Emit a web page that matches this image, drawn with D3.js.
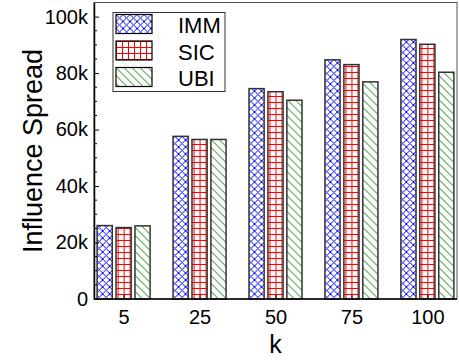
<!DOCTYPE html>
<html>
<head>
<meta charset="utf-8">
<script src="https://cdn.jsdelivr.net/npm/d3@7"></script>
<style>
  body { margin: 0; background: #fff; }
  svg { display: block; font-family: "Liberation Sans", Arial, sans-serif; }
</style>
</head>
<body>
<svg></svg>
<script>
// data
const kLabels = ["5", "25", "50", "75", "100"];
const methods = ["IMM", "SIC", "UBI"];
const immSpread = [26000, 57600, 74500, 84700, 91900];
const sicSpread = [25300, 56500, 73400, 83000, 90200];
const ubiSpread = [25900, 56500, 70400, 76900, 80300];
const yTicks = [0, 20000, 40000, 60000, 80000, 100000];
const yTickLabels = ["0", "20k", "40k", "60k", "80k", "100k"];

const W = 459, H = 360;
const plot = { left: 94, right: 457, top: 2.5, bottom: 299 };

const svg = d3.select("svg")
    .attr("width", W)
    .attr("height", H);

// hatch patterns
const defs = svg.append("defs");
const pImm = defs.append("pattern")
    .attr("id", "p-imm")
    .attr("patternUnits", "userSpaceOnUse")
    .attr("width", 7).attr("height", 7);
pImm.append("path")
    .attr("d", "M0,0L7,7M7,0L0,7M-1,6L1,8M6,-1L8,1M-1,1L1,-1M6,8L8,6")
    .attr("stroke", "#0000ff").attr("stroke-width", 1).attr("fill", "none");

const pSic = defs.append("pattern")
    .attr("id", "p-sic")
    .attr("patternUnits", "userSpaceOnUse")
    .attr("width", 6).attr("height", 6);
pSic.append("path")
    .attr("d", "M0,0.5H6M0.5,0V6")
    .attr("stroke", "#ff0000").attr("stroke-width", 1).attr("fill", "none");

const pUbi = defs.append("pattern")
    .attr("id", "p-ubi")
    .attr("patternUnits", "userSpaceOnUse")
    .attr("width", 8).attr("height", 8);
pUbi.append("path")
    .attr("d", "M0,0L8,8M-1,7L1,9M7,-1L9,1")
    .attr("stroke", "#108a10").attr("stroke-width", 1).attr("fill", "none");

const fills = { IMM: "url(#p-imm)", SIC: "url(#p-sic)", UBI: "url(#p-ubi)" };

// scales
const x = d3.scalePoint()
    .domain(kLabels)
    .range([plot.left, plot.right])
    .padding(0.39);

const xSub = d3.scaleBand()
    .domain(methods)
    .range([-26.5, 26.5])
    .paddingInner(0.2);

const y = d3.scaleLinear()
    .domain([0, 105000])
    .range([plot.bottom, plot.top]);

const rows = kLabels.map((k, i) => ({
    k,
    values: [
        { method: "IMM", v: immSpread[i] },
        { method: "SIC", v: sicSpread[i] },
        { method: "UBI", v: ubiSpread[i] }
    ]
}));

// bars
const groups = svg.append("g").selectAll("g")
    .data(rows)
    .join("g")
    .attr("transform", d => `translate(${x(d.k)},0)`);

groups.selectAll("rect.bg")
    .data(d => d.values)
    .join("rect")
    .attr("class", "bg")
    .attr("x", d => xSub(d.method))
    .attr("width", xSub.bandwidth())
    .attr("y", d => y(d.v))
    .attr("height", d => y(0) - y(d.v))
    .attr("fill", "#fff");

groups.selectAll("rect.bar")
    .data(d => d.values)
    .join("rect")
    .attr("class", "bar")
    .attr("x", d => xSub(d.method))
    .attr("width", xSub.bandwidth())
    .attr("y", d => y(d.v))
    .attr("height", d => y(0) - y(d.v))
    .attr("fill", d => fills[d.method])
    .attr("stroke", "#333")
    .attr("stroke-width", 1.5);

// frame
svg.append("rect")
    .attr("x", plot.left).attr("y", plot.top)
    .attr("width", plot.right - plot.left)
    .attr("height", plot.bottom - plot.top)
    .attr("fill", "none")
    .attr("stroke", "#555")
    .attr("stroke-width", 1);

// y axis (ticks inward)
const yAxis = d3.axisRight(y)
    .tickValues(yTicks)
    .tickFormat((d, i) => yTickLabels[i])
    .tickSize(5)
    .tickSizeOuter(0);
const yG = svg.append("g")
    .attr("transform", `translate(${plot.left},0)`)
    .call(yAxis);
yG.select(".domain").attr("stroke", "#000").attr("stroke-width", 1.5);
yG.selectAll(".tick line").attr("stroke", "#000");
yG.selectAll(".tick text")
    .attr("x", -6)
    .attr("text-anchor", "end")
    .attr("font-size", 20)
    .attr("fill", "#000")
    .attr("font-family", "Liberation Sans, Arial, sans-serif");

// minor y ticks
const minor = d3.range(5000, 105000, 5000).filter(v => v % 20000 !== 0);
svg.append("g").selectAll("line")
    .data(minor)
    .join("line")
    .attr("x1", plot.left).attr("x2", plot.left + 3)
    .attr("y1", d => y(d)).attr("y2", d => y(d))
    .attr("stroke", "#000");

// x axis (ticks inward)
const xAxis = d3.axisTop(x).tickSize(4).tickSizeOuter(0);
const xG = svg.append("g")
    .attr("transform", `translate(0,${plot.bottom})`)
    .call(xAxis);
xG.select(".domain").attr("d", `M${plot.left},0H${plot.right}`)
    .attr("stroke", "#000").attr("stroke-width", 1.5);
xG.selectAll(".tick line").attr("stroke", "#000");
xG.selectAll(".tick text")
    .attr("y", 25)
    .attr("dy", 0)
    .attr("font-size", 20)
    .attr("fill", "#000")
    .attr("font-family", "Liberation Sans, Arial, sans-serif");

// axis titles
svg.append("text")
    .attr("x", (plot.left + plot.right) / 2)
    .attr("y", 353)
    .attr("text-anchor", "middle")
    .attr("font-size", 25)
    .text("k");

svg.append("text")
    .attr("transform", `translate(42,151) rotate(-90)`)
    .attr("text-anchor", "middle")
    .attr("font-size", 27)
    .text("Influence Spread");

// legend
const legend = svg.append("g").attr("transform", "translate(113,12.5)");
legend.append("rect")
    .attr("width", 112).attr("height", 79)
    .attr("fill", "#fff")
    .attr("stroke", "#333")
    .attr("stroke-width", 1);
const item = legend.selectAll("g.item")
    .data(methods)
    .join("g")
    .attr("class", "item")
    .attr("transform", (d, i) => `translate(3,${2 + i * 26.5})`);
item.append("rect")
    .attr("width", 36).attr("height", 19)
    .attr("fill", "#fff");
item.append("rect")
    .attr("width", 36).attr("height", 19)
    .attr("fill", d => fills[d])
    .attr("stroke", "#000")
    .attr("stroke-width", 1.2);
item.append("text")
    .attr("x", 62).attr("y", 18.5)
    .attr("text-anchor", "start")
    .attr("font-size", 22)
    .text(d => d);
</script>
</body>
</html>
